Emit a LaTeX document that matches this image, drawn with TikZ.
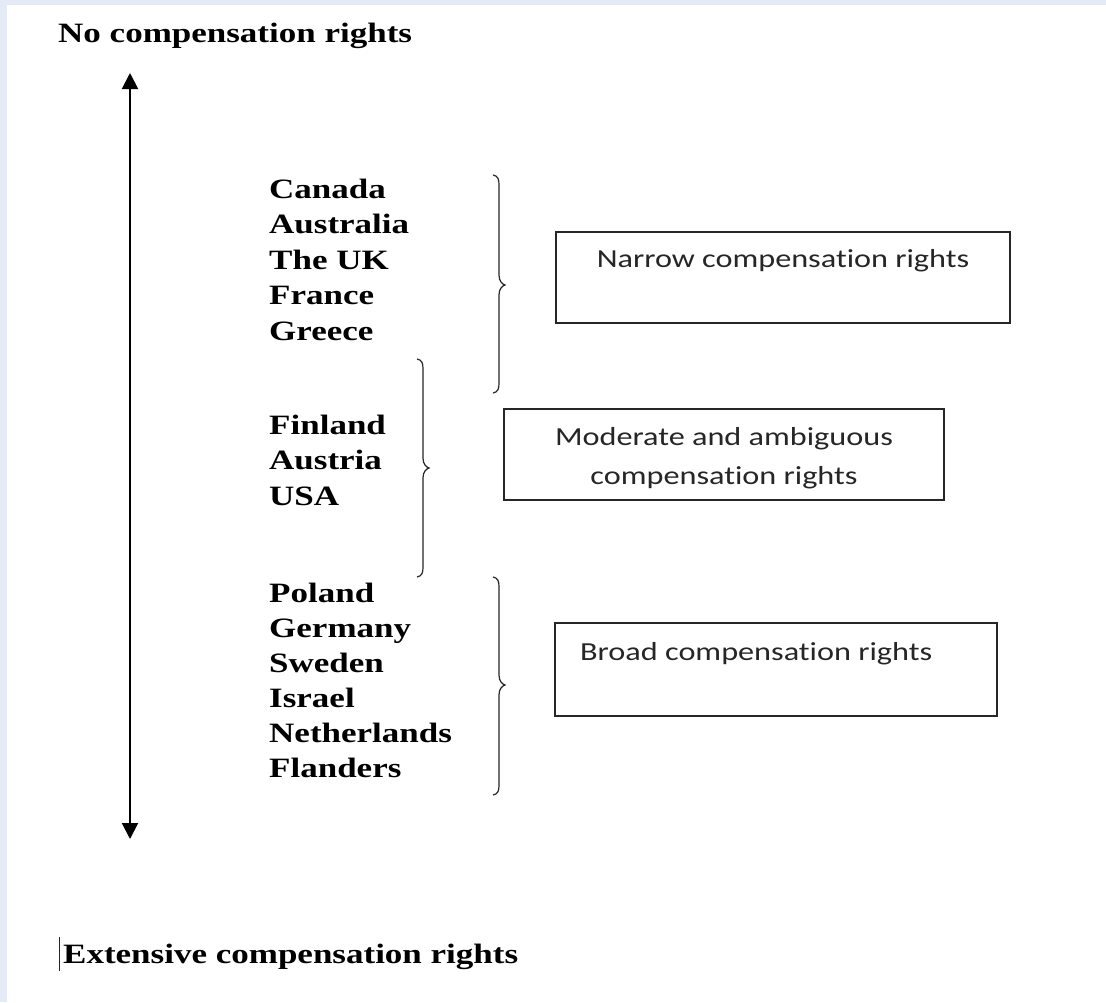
\documentclass[tikz,border=0pt]{standalone}
\usepackage{fontspec}
\usetikzlibrary{arrows.meta}
\newfontfamily\ctryfont[FakeStretch=1.25]{Liberation Serif}
\newfontfamily\boxfont[FakeStretch=1.24,Ligatures=NoCommon]{Carlito}
\definecolor{pagebg}{HTML}{E4EAF6}
\definecolor{inkgray}{HTML}{262626}
\tikzset{
  ctry/.style={anchor=base west, inner sep=0pt, font=\ctryfont\bfseries\fontsize{28}{34}\selectfont},
  boxtxt/.style={anchor=base, inner sep=0pt, text=inkgray, font=\boxfont\fontsize{26}{32}\selectfont},
  catbox/.style={draw=inkgray, line width=1.3pt, rectangle, inner sep=0pt},
  bracepath/.style={draw=inkgray, line width=1.2pt},
  scalearrow/.style={line width=2pt, {Triangle[width=16pt,length=16pt]}-{Triangle[width=16pt,length=16pt]}}
}
\newcommand\rbracedraw[4]{% stem x, top, mid, bottom
  \draw[bracepath] (#1-6,#2) .. controls (#1-1,#2+1) and (#1,#2+4) .. (#1,#2+10)
    -- (#1,#3-10) .. controls (#1,#3-4) and (#1+3,#3-1) .. (#1+6,#3)
    .. controls (#1+3,#3+1) and (#1,#3+4) .. (#1,#3+10)
    -- (#1,#4-10) .. controls (#1,#4-4) and (#1-1,#4-1) .. (#1-6,#4);}
\begin{document}
\begin{tikzpicture}[x=1pt,y=-1pt]
\useasboundingbox (0,0) rectangle (1106,1002);
\fill[pagebg] (0,0) rectangle (1106,1002);
\fill[white] (7,5) rectangle (1106,1002);

% titles
\node[ctry] (top) at (58,42) {No compensation rights};
\node[ctry] (bottom) at (63,963) {Extensive compensation rights};
\draw[inkgray, line width=1pt] (59,937) -- (59,971);

% scale arrow
\coordinate (atop) at (130,73);
\coordinate (abot) at (130,839);
\draw[scalearrow] (atop) -- (abot);

% countries
\node[ctry] (c1) at (269,198) {Canada};
\node[ctry] (c2) at (269,233.5) {Australia};
\node[ctry] (c3) at (269,269) {The UK};
\node[ctry] (c4) at (269,304.5) {France};
\node[ctry] (c5) at (269,340) {Greece};

\node[ctry] (c6) at (269,434) {Finland};
\node[ctry] (c7) at (269,469.5) {Austria};
\node[ctry] (c8) at (269,505) {USA};

\node[ctry] (c9) at (269,602) {Poland};
\node[ctry] (c10) at (269,637) {Germany};
\node[ctry] (c11) at (269,672) {Sweden};
\node[ctry] (c12) at (269,707) {Israel};
\node[ctry] (c13) at (269,742) {Netherlands};
\node[ctry] (c14) at (269,777) {Flanders};

% braces
\rbracedraw{499}{175}{285}{393}
\rbracedraw{423}{359}{468}{577}
\rbracedraw{499}{577}{685}{795}

% boxes
\node[catbox, minimum width=454pt, minimum height=91pt] (narrow) at (783,277.5) {};
\node[boxtxt] (narrowt) at (783,267) {Narrow compensation rights};

\node[catbox, minimum width=440pt, minimum height=91pt] (moder) at (724,454.5) {};
\node[boxtxt] (modert1) at (724,445) {Moderate and ambiguous};
\node[boxtxt] (modert2) at (724,484) {compensation rights};

\node[catbox, minimum width=442pt, minimum height=93pt] (broad) at (776,669.5) {};
\node[boxtxt, anchor=base west] (broadt) at (580,660) {Broad compensation rights};
\end{tikzpicture}
\end{document}
